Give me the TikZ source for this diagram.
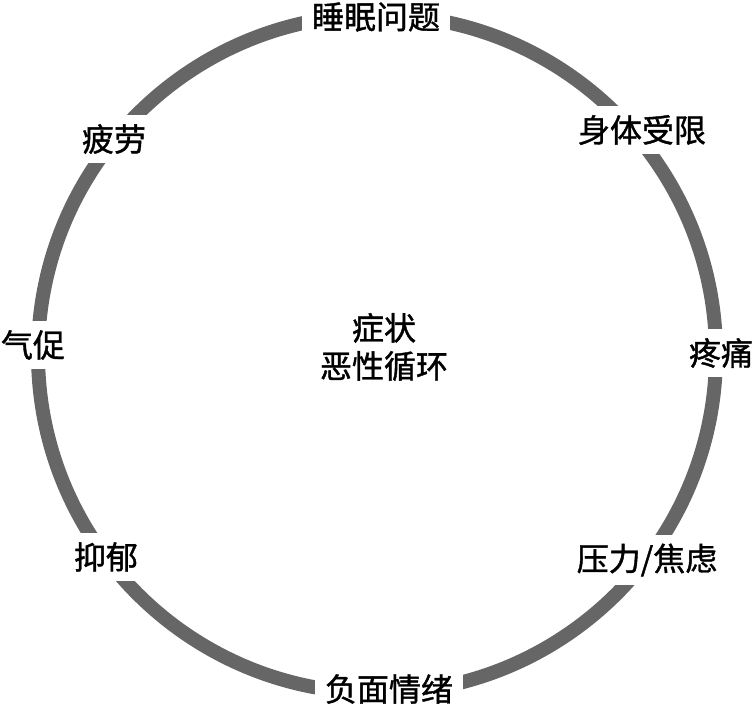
\documentclass[tikz,border=0pt]{standalone}
\usepackage{fontspec}
\newfontfamily\cjk[FakeBold=1.2]{Noto Sans CJK SC}
\definecolor{ringgray}{HTML}{666666}

\begin{document}
\begin{tikzpicture}[x=1pt,y=1pt,
	lbl/.style={fill=white,inner xsep=10pt,inner ysep=9pt,font=\cjk\fontsize{32}{38}\selectfont}]
	\useasboundingbox (0,0) rectangle (756,712);
	% ring
	\draw[line width=14pt,draw=ringgray] (377,358) circle (339pt);
	% centre text
	\node[font=\cjk\fontsize{32}{38}\selectfont,align=center] (cycle) at (384,365) {症状\\恶性循环};
	% labels on the ring
	\node[lbl] (sleep) at (376,695) {睡眠问题};
	\node[lbl] (limit) at (642,582) {身体受限};
	\node[lbl] (pain) at (721,359) {疼痛};
	\node[lbl] (stress) at (647,152) {压力/焦虑};
	\node[lbl] (mood) at (389,23) {负面情绪};
	\node[lbl] (depress) at (106,155) {抑郁};
	\node[lbl] (breath) at (33,367) {气促};
	\node[lbl] (tired) at (114,573) {疲劳};
\end{tikzpicture}
\end{document}
